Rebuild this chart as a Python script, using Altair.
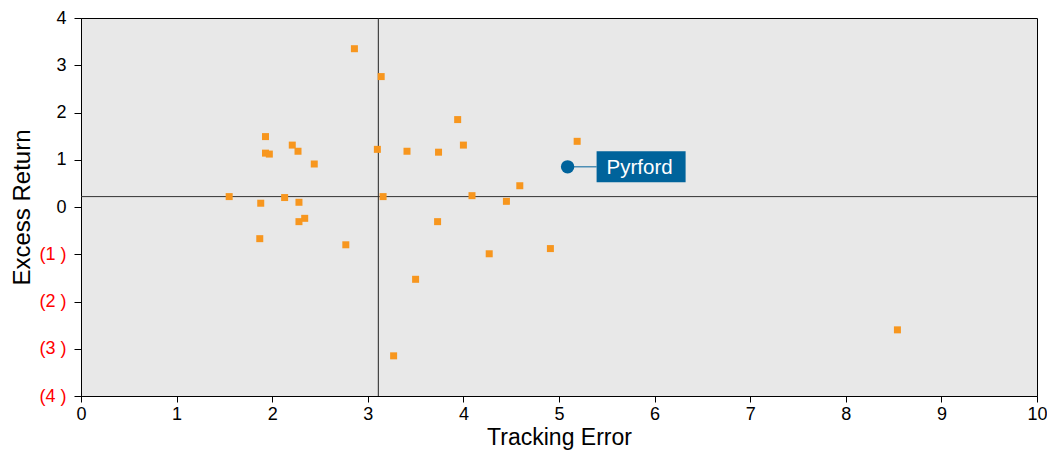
import altair as alt
import pandas as pd

# Peer universe: tracking error (x) and excess return (y)
tracking_error = [2.86, 3.14, 3.94, 1.93, 2.21, 4.00, 2.27, 3.10, 3.41, 3.74,
                  1.93, 1.97, 2.44, 1.55, 1.88, 2.13, 2.28, 3.16, 4.09, 2.34,
                  2.28, 3.73, 4.59, 4.45, 1.87, 2.77, 4.27, 4.91, 3.50, 3.27,
                  5.19, 8.54]
excess_return = [3.35, 2.76, 1.85, 1.49, 1.31, 1.31, 1.18, 1.22, 1.18, 1.16,
                 1.14, 1.12, 0.91, 0.22, 0.08, 0.20, 0.10, 0.22, 0.24, -0.24,
                 -0.31, -0.31, 0.45, 0.12, -0.67, -0.80, -0.99, -0.88, -1.53, -3.15,
                 1.39, -2.60]

highlight_name = ["Pyrford"]
highlight_x = [5.09]
highlight_y = [0.85]

avg_x = [3.11]
avg_y = [0.22]

x_ticks = [0, 1, 2, 3, 4, 5, 6, 7, 8, 9, 10]
y_ticks = [-4, -3, -2, -1, 0, 1, 2, 3, 4]

FONT = "Liberation Sans"
ORANGE = "#F7961E"
BLUE = "#00639B"

peers = pd.DataFrame({"te": tracking_error, "er": excess_return})
hl = pd.DataFrame({"te": highlight_x, "er": highlight_y, "name": highlight_name})
vline = pd.DataFrame({"te": avg_x})
hline = pd.DataFrame({"er": avg_y})

xscale = alt.Scale(domain=[0, 10], nice=False, zero=False)
yscale = alt.Scale(domain=[-4, 4], nice=False, zero=False)

xaxis = alt.Axis(title="Tracking Error", values=x_ticks, grid=False,
                 labelFlush=False, labelOverlap=False,
                 domainColor="black", tickColor="black", tickSize=6,
                 labelFontSize=18, labelColor="black", labelPadding=3,
                 titleFontSize=23, titleFontWeight="normal", titleColor="black",
                 titlePadding=3, labelFont=FONT, titleFont=FONT)
yaxis = alt.Axis(title="Excess Return", values=y_ticks, grid=False,
                 labelFlush=False, labelOverlap=False,
                 domainColor="black", tickColor="black", tickSize=7,
                 labelFontSize=18, labelPadding=8,
                 labelExpr="datum.value < 0 ? '(' + abs(datum.value) + ' )' : datum.value",
                 labelColor={"condition": {"test": "datum.value < 0", "value": "#FF0000"},
                             "value": "black"},
                 titleFontSize=24, titleFontWeight="normal", titleColor="black",
                 titlePadding=5, labelFont=FONT, titleFont=FONT)

base_x = alt.X("te:Q", scale=xscale, axis=xaxis)
base_y = alt.Y("er:Q", scale=yscale, axis=yaxis)

vrule = alt.Chart(vline).mark_rule(color="#222222", strokeWidth=1).encode(
    x=alt.X("te:Q", scale=xscale, axis=xaxis))
hrule = alt.Chart(hline).mark_rule(color="#333333", strokeWidth=1).encode(
    y=alt.Y("er:Q", scale=yscale, axis=yaxis))

pts = alt.Chart(peers).mark_square(size=49, color=ORANGE, opacity=1).encode(
    x=base_x, y=base_y)

connector = alt.Chart(hl).mark_rule(color=BLUE, strokeWidth=1, x2Offset=29).encode(
    x=base_x, x2="te:Q", y=base_y)

box = alt.Chart(hl).mark_rect(color=BLUE, xOffset=29, x2Offset=118,
                              yOffset=-15.5, y2Offset=15.5).encode(
    x=base_x, x2="te:Q", y=base_y, y2="er:Q")

label = alt.Chart(hl).mark_text(color="white", font=FONT, fontSize=20.5,
                                align="left", baseline="middle",
                                dx=39, dy=1).encode(
    x=base_x, y=base_y, text="name:N")

dot = alt.Chart(hl).mark_circle(size=180, color=BLUE, opacity=1).encode(
    x=base_x, y=base_y)

chart = alt.layer(vrule, hrule, pts, connector, box, label, dot).properties(
    width=956, height=378,
    autosize=alt.AutoSizeParams(type="none"),
    padding={"left": 73, "top": 10, "right": 10, "bottom": 54},
).configure(font=FONT).configure_view(
    fill="#E8E8E8", stroke="black", strokeWidth=1
)

chart.save("out.html", embed_options={"renderer": "svg", "actions": False})
